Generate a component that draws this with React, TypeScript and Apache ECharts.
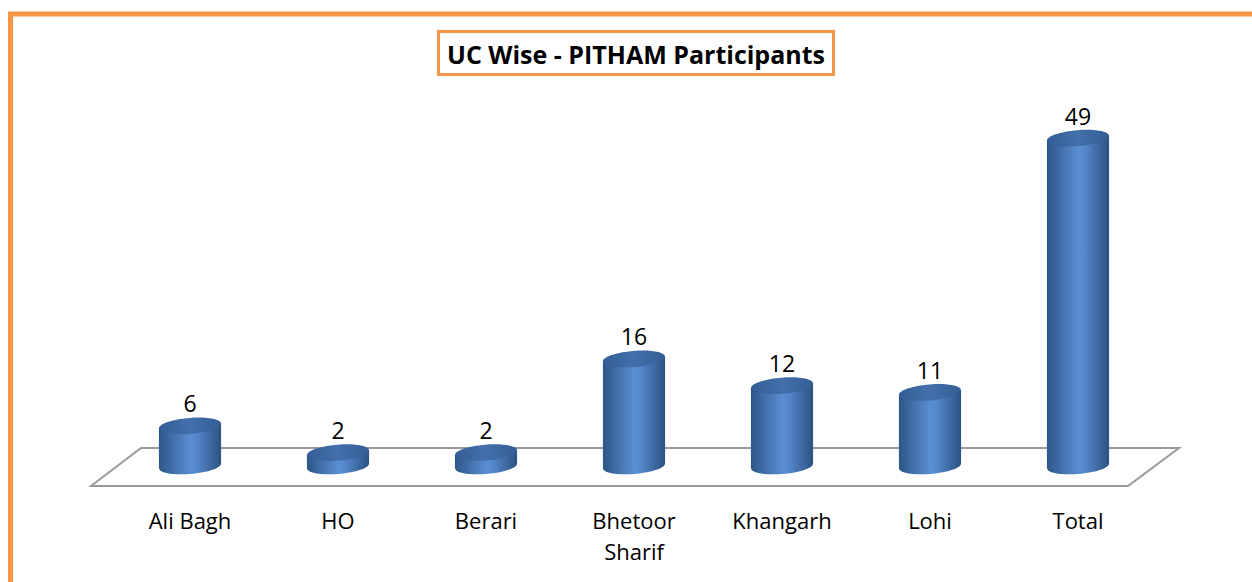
import React, { useEffect, useRef } from "react";
import * as echarts from "echarts";

const categories = ["Ali Bagh", "HO", "Berari", "Bhetoor\nSharif", "Khangarh", "Lohi", "Total"];
const values = [6, 2, 2, 16, 12, 11, 49];
const titleText = "UC Wise - PITHAM Participants";

const ORANGE = "#F79646";
const TILT = 0.08;

function renderCylinder(params: any, api: any) {
  const idx = api.value(0);
  const val = api.value(1);
  const top = api.coord([idx, val]);
  const base = api.coord([idx, 0]);
  const w = api.size([1, 0])[0] * 0.42;
  const rx = w / 2;
  const ry = 8;
  const cx = top[0];
  const topY = top[1];
  const baseY = base[1];
  const d = rx * Math.sin(TILT);
  const bodyGrad = new echarts.graphic.LinearGradient(0, 0, 1, 0, [
    { offset: 0, color: "#2d5688" },
    { offset: 0.5, color: "#5a8ed2" },
    { offset: 0.6, color: "#5588cc" },
    { offset: 1, color: "#2c5283" },
  ]);
  const topGrad = new echarts.graphic.LinearGradient(0, 0, 1, 0, [
    { offset: 0, color: "#335d96" },
    { offset: 0.5, color: "#4370ab" },
    { offset: 1, color: "#335d96" },
  ]);
  return {
    type: "group",
    children: [
      {
        type: "ellipse",
        x: cx,
        y: baseY,
        rotation: TILT,
        shape: { cx: 0, cy: 0, rx, ry },
        style: { fill: bodyGrad },
      },
      {
        type: "polygon",
        shape: {
          points: [
            [cx - rx, topY + d],
            [cx + rx, topY - d],
            [cx + rx, baseY - d],
            [cx - rx, baseY + d],
          ],
        },
        style: { fill: bodyGrad },
      },
      {
        type: "ellipse",
        x: cx,
        y: topY,
        rotation: TILT,
        shape: { cx: 0, cy: 0, rx, ry },
        style: { fill: topGrad },
      },
      {
        type: "text",
        x: cx,
        y: topY - ry - 3,
        style: {
          text: String(val),
          fill: "#000",
          font: "23px 'Open Sans'",
          align: "center",
          verticalAlign: "bottom",
        },
      },
    ],
  };
}

export default function App() {
  const ref = useRef<HTMLDivElement>(null);
  useEffect(() => {
    if (!ref.current) return;
    const chart = echarts.init(ref.current, null, { renderer: "svg" });
    chart.setOption({
      animation: false,
      backgroundColor: "#fff",
      title: {
        text: titleText,
        left: 438,
        top: 31,
        padding: [10, 9, 9, 9],
        borderColor: ORANGE,
        borderWidth: 3,
        textStyle: {
          fontFamily: "'Open Sans'",
          fontWeight: "bold",
          fontSize: 25,
          color: "#000",
        },
      },
      grid: { left: 116, width: 1036, top: 98, height: 368 },
      xAxis: {
        type: "category",
        data: categories,
        axisLine: { show: false },
        axisTick: { show: false },
        axisLabel: {
          margin: 38,
          fontFamily: "'Open Sans'",
          fontSize: 22,
          color: "#000",
          lineHeight: 31,
          verticalAlign: "top",
          interval: 0,
        },
      },
      yAxis: {
        type: "value",
        min: 0,
        max: 55,
        show: false,
        splitLine: { show: false },
      },
      graphic: [
        {
          type: "rect",
          z: 0,
          shape: { x: 10.5, y: 14, width: 1400, height: 800 },
          style: { fill: "none", stroke: ORANGE, lineWidth: 5 },
        },
        {
          type: "polygon",
          z: 0,
          shape: {
            points: [
              [91, 486],
              [141, 448],
              [1179, 448],
              [1128, 486],
            ],
          },
          style: { fill: "none", stroke: "#999", lineWidth: 2 },
        },
      ],
      series: [
        {
          type: "custom",
          z: 5,
          renderItem: renderCylinder,
          data: values.map((v, i) => [i, v]),
        },
      ],
    });
    return () => chart.dispose();
  }, []);
  return (
    <div
      ref={ref}
      style={{ position: "absolute", left: 0, top: 0, width: 1252, height: 582 }}
    />
  );
}
